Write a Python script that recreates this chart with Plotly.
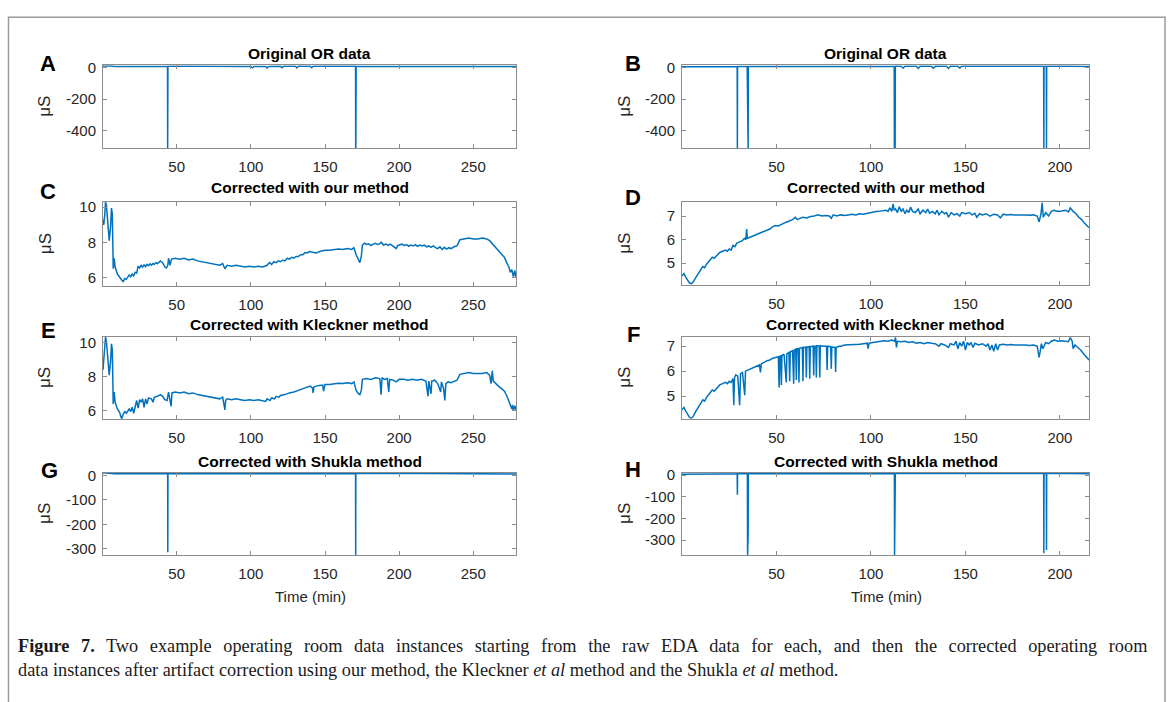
import plotly.graph_objects as go

# ---------------- data ----------------
A_time = [0.3, 2, 6, 8, 14, 30, 43.8, 43.9, 44.0, 44.1, 60, 80, 100, 101, 102, 110, 111, 112, 120,
          121, 122, 130, 131, 132, 140, 141, 142, 150, 170.6, 170.7, 170.8, 171, 200, 240, 260,
          278.8]
A_us = [9.3, 10.2, 9.9, 6.5, 5.8, 6.7, 6.6, -511, -511, 7.1, 7.0, 6.7, 6.6, -2, 6.7, 6.7, -3, 6.8,
        6.9, -2, 6.9, 7.2, -3, 7.2, 7.4, -2, 7.4, 7.5, 7.7, -511, -511, 7.9, 7.8, 8.2, 8.2, 6.0]

B_time = [0, 4, 20, 29.2, 29.3, 29.4, 34.5, 34.6, 34.7, 34.9, 35.0, 35.1, 60, 100, 112.3, 112.4,
          112.5, 112.7, 112.8, 112.9, 116, 117, 118, 124, 125, 126, 132, 133, 134, 140, 141, 142,
          146, 147, 148, 170, 191.4, 191.5, 191.6, 192.8, 192.9, 193.0, 205, 215.4]
B_us = [4.4, 4.1, 5.4, 5.9, -511, 5.9, 6.0, -511, 6.0, 6.0, -511, 6.1, 6.9, 7.1, 7.2, -511,
        7.2, 7.2, -511, 7.2, 7.2, -5, 7.1, 7.1, -6, 7.1, 7.0, -5, 7.0, 7.1, -6, 7.1,
        7.0, -4, 7.0, 7.05, 7.0, -511, 7.0, 7.1, -511, 7.1, 7.3, 6.5]

C_time = [0.3, 0.8, 1.5, 2.0, 2.6, 3.5, 4.5, 5.5, 6.0, 6.6, 7.2, 7.8, 8.5, 10, 11.5, 13, 14, 15, 16,
          18, 19, 20, 21, 22, 23, 24, 25, 26, 27, 28, 29, 30, 31, 32, 33, 34, 35, 36, 37, 38, 39,
          40.5, 42, 43, 44, 44.5, 45.5, 46.5, 49, 52, 55, 58, 61, 64, 67, 70, 73, 76, 79, 81, 82.5,
          84, 87, 90, 93, 96, 99, 102, 105, 108, 111, 112.5, 114, 115.5, 117, 118.5, 120, 121.5,
          123, 124.5, 126, 127.5, 129, 130.5, 132, 133.5, 135, 136.5, 138, 139.5, 141, 144, 147,
          150, 153, 156, 159, 162, 165, 168, 169.5, 171, 172.5, 173.5, 174.5, 175.2, 176.5, 178,
          179.5, 181, 182.5, 184, 185.5, 186.5, 188, 189.5, 191, 192.5, 194, 196, 197, 198, 199,
          200, 202, 203.5, 205, 206.5, 208, 209.5, 211, 212.5, 214, 215.5, 217, 218.5, 220, 221.5,
          223, 224.5, 226, 227.5, 229, 230.5, 232, 233.5, 235, 237, 239, 241, 244, 247, 250, 253,
          256, 259, 261, 263, 265, 267, 269, 271, 272.5, 274, 275, 276, 277, 278, 278.8]
C_us = [9.3, 9.0, 9.6, 10.3, 10.1, 9.2, 8.1, 9.0, 9.95, 9.6, 6.5, 7.1, 6.6, 6.2, 6.0, 5.85, 5.78,
        5.95, 5.9, 6.15, 6.05, 6.2, 6.1, 6.3, 6.25, 6.65, 6.55, 6.7, 6.6, 6.72, 6.62, 6.75, 6.68,
        6.78, 6.7, 6.8, 6.75, 6.85, 6.8, 6.9, 6.95, 6.85, 6.6, 6.55, 6.7, 7.1, 6.7, 7.05, 7.1,
        7.05, 7.1, 7.0, 7.05, 6.95, 6.9, 6.85, 6.8, 6.75, 6.7, 6.8, 6.5, 6.7, 6.65, 6.7, 6.65,
        6.6, 6.65, 6.6, 6.65, 6.6, 6.7, 6.85, 6.75, 6.9, 6.85, 6.95, 6.9, 7.0, 6.95, 7.1, 7.05,
        7.15, 7.1, 7.2, 7.2, 7.3, 7.3, 7.42, 7.4, 7.48, 7.45, 7.4, 7.5, 7.55, 7.55, 7.6, 7.62,
        7.6, 7.65, 7.6, 7.7, 7.3, 7.0, 6.85, 7.2, 7.85, 7.95, 7.88, 7.92, 7.82, 7.9, 7.95, 7.88,
        7.9, 8.0, 7.85, 7.9, 7.83, 7.9, 7.8, 7.72, 7.65, 7.82, 7.85, 7.9, 7.82, 7.88, 7.78, 7.85,
        7.8, 7.87, 7.78, 7.85, 7.8, 7.85, 7.75, 7.8, 7.72, 7.8, 7.7, 7.65, 7.75, 7.6, 7.72, 7.62,
        7.7, 7.65, 7.75, 7.8, 8.15, 8.2, 8.25, 8.2, 8.2, 8.25, 8.2, 8.1, 7.9, 7.7, 7.5, 7.35,
        7.15, 6.85, 6.6, 6.3, 6.45, 6.05, 6.4, 6.0]

D_time = [0, 1, 2, 3, 4, 5, 6, 7, 8.5, 10, 11, 12, 13, 14.5, 16, 17, 18.5, 20, 21.5, 23, 24, 25,
          26, 27, 28, 29, 30.5, 32, 33, 33.8, 34.2, 34.6, 36, 37.5, 39, 40.5, 42, 43.5, 45, 46.5,
          48, 49.5, 51, 52.5, 54, 55.5, 57, 58.5, 60, 61, 62.5, 64, 66, 68, 70, 72, 74, 76, 78,
          79, 80, 82, 84, 86, 88, 90, 92, 94, 96, 98, 100, 102, 104, 106, 108, 109, 110, 111,
          111.7, 112.3, 113, 114, 115, 116, 117, 118, 119, 120, 121, 122, 123.5, 125, 126,
          127.5, 129, 130, 131, 132.5, 134, 135, 136, 137.5, 139, 140, 141, 142.5, 144, 145.5,
          147, 148, 150, 152, 153.5, 155, 156, 157.5, 159, 161, 163, 165, 167, 168.5, 170, 172,
          174, 176, 178, 180, 182, 184, 186, 188, 189, 190, 190.6, 191.2, 192.5, 194, 195.5, 197,
          199, 201, 203, 204.5, 205.5, 207, 208.5, 210, 211.5, 213, 214.5, 215.4]
D_us = [4.45, 4.55, 4.4, 4.25, 4.15, 4.12, 4.2, 4.35, 4.55, 4.7, 4.85, 4.8, 4.95, 5.1, 5.25, 5.2,
        5.35, 5.45, 5.5, 5.55, 5.5, 5.6, 5.55, 5.75, 5.7, 5.85, 5.9, 5.95, 6.05, 6.0, 6.45, 6.05,
        6.1, 6.15, 6.2, 6.25, 6.3, 6.35, 6.42, 6.45, 6.55, 6.6, 6.58, 6.65, 6.7, 6.75, 6.8, 6.85,
        6.95, 6.85, 6.9, 6.95, 6.92, 6.98, 7.0, 7.05, 7.0, 7.02, 7.0, 6.9, 7.05, 7.0, 7.05, 7.02,
        7.05, 7.08, 7.05, 7.1, 7.08, 7.12, 7.15, 7.18, 7.2, 7.22, 7.25, 7.2, 7.35, 7.2, 7.52,
        7.25, 7.3, 7.15, 7.4, 7.2, 7.3, 7.1, 7.25, 7.15, 7.38, 7.2, 7.15, 7.3, 7.1, 7.25, 7.15,
        7.3, 7.12, 7.2, 7.1, 7.25, 7.05, 7.2, 7.1, 7.15, 6.95, 7.15, 7.05, 7.1, 7.0, 7.15, 7.1,
        7.15, 7.05, 7.12, 6.95, 7.1, 7.05, 7.1, 7.0, 7.08, 7.05, 6.92, 7.08, 7.05, 7.07, 7.05,
        7.06, 7.04, 7.05, 7.03, 7.05, 7.0, 6.75, 7.1, 7.56, 6.95, 7.15, 7.0, 7.2, 7.25, 7.2,
        7.22, 7.25, 7.18, 7.35, 7.2, 7.1, 6.95, 6.85, 6.7, 6.55, 6.5]

E_time = [0.3, 0.8, 1.5, 2.0, 2.6, 3.5, 4.5, 5.5, 6.0, 6.6, 7.2, 7.8, 8.5, 10, 11.5, 12.5, 13, 14,
          15, 16, 18, 19, 20, 21, 22, 23, 24, 25, 26, 27, 28, 29, 30, 31, 33, 34, 35, 37, 39, 40.5,
          42, 43.5, 44.5, 45.5, 46.2, 46.8, 49, 52, 55, 58, 61, 64, 67, 70, 73, 76, 79, 81, 82,
          82.5, 83, 84, 87, 90, 93, 96, 99, 102, 105, 108, 110, 111, 113, 114, 116, 117, 119, 120,
          123, 126, 129, 132, 135, 138, 140, 141.5, 142, 142.5, 144, 147, 148.5, 149, 149.5, 150,
          153, 156, 159, 162, 165, 168, 169.5, 171, 172.5, 173.5, 174.5, 175.2, 178, 181, 184,
          187, 187.8, 188.5, 190, 192, 193, 193.6, 196, 198, 200, 203, 206, 209, 212, 215, 218,
          219.5, 220, 221.5, 222, 224, 226, 228, 228.5, 230, 230.8, 231.5, 233, 235, 237, 239,
          241, 244, 247, 250, 253, 256, 259, 261, 262, 262.8, 263.5, 265, 267, 269, 271, 272.5,
          274, 275, 276, 276.5, 277, 278, 278.8]
E_us = [8.4, 9.2, 9.6, 10.35, 10.1, 9.2, 8.1, 9.0, 9.95, 9.6, 6.4, 7.1, 6.5, 6.1, 5.9, 5.6, 5.55,
        5.8, 5.95, 5.85, 6.1, 5.95, 6.2, 5.85, 6.3, 6.6, 6.15, 6.65, 6.5, 6.7, 6.2, 6.7, 6.4,
        6.75, 6.7, 6.5, 6.8, 6.85, 6.95, 6.85, 6.65, 6.6, 7.1, 6.7, 6.25, 7.05, 7.1, 7.05, 7.1,
        7.0, 7.05, 6.95, 6.9, 6.85, 6.8, 6.75, 6.7, 6.8, 6.3, 6.05, 6.6, 6.7, 6.65, 6.7, 6.65,
        6.6, 6.65, 6.6, 6.65, 6.6, 6.55, 6.7, 6.6, 6.75, 6.7, 6.85, 6.8, 6.9, 6.95, 7.05, 7.1,
        7.2, 7.3, 7.4, 7.45, 7.35, 7.05, 7.4, 7.45, 7.5, 7.5, 7.15, 7.5, 7.55, 7.55, 7.6, 7.62,
        7.6, 7.65, 7.6, 7.7, 7.2, 7.0, 6.95, 7.2, 7.85, 7.9, 7.85, 7.95, 7.9, 6.95, 7.95, 7.85,
        7.9, 7.1, 7.85, 7.8, 7.7, 7.85, 7.85, 7.8, 7.85, 7.8, 7.85, 7.75, 6.85, 7.75, 7.0, 7.75,
        7.8, 7.6, 7.1, 7.7, 7.3, 6.6, 7.6, 7.7, 7.65, 7.75, 7.8, 8.15, 8.2, 8.25, 8.2, 8.2, 8.2,
        8.25, 8.1, 7.6, 8.35, 7.75, 7.6, 7.45, 7.3, 7.15, 6.9, 6.6, 6.3, 6.1, 6.35, 6.0, 6.3,
        6.05]

F_time = [0, 1, 2, 3, 4, 5, 6, 7, 8.5, 10, 11, 12, 13, 14.5, 16, 17, 18.5, 20, 21.5, 23, 24, 25,
          26, 27, 27.4, 27.8, 28.5, 29.5, 30.5, 31, 32, 33.2, 33.6, 35, 36.5, 38, 39.5, 41, 41.5,
          42, 43.5, 45, 46.5, 48, 49.5, 51, 51.4, 51.8, 52.3, 52.6, 52.9, 54, 55.2, 55.5, 56.6,
          57.0, 57.3, 58.5, 59.1, 59.4, 60.2, 60.5, 60.8, 61.6, 61.9, 62.2, 63.7, 64.0, 64.3,
          65.5, 65.8, 66.1, 67.3, 67.6, 67.9, 69.4, 69.7, 70.0, 70.8, 71.1, 71.4, 72.6, 72.9,
          73.2, 75, 76.5, 76.8, 77.1, 78.7, 79.0, 79.3, 81.0, 81.3, 81.6, 83, 84, 86, 88, 90, 92,
          94, 96, 98, 98.5, 99, 101, 103, 105, 107, 109, 111, 112.5, 113, 113.5, 114, 116, 118,
          120, 122, 124, 126, 128, 130, 132, 134, 136, 137, 139, 141, 142, 144, 145, 146, 147,
          148, 149, 150, 151, 152, 153, 154, 155, 157, 159, 161, 162, 163, 164, 165, 166, 167,
          168, 170, 172, 174, 176, 178, 180, 182, 184, 186, 188, 189, 189.6, 190.2, 191, 192.5,
          194, 195.5, 197, 199, 201, 203, 204.5, 205.5, 206.5, 207, 208, 209.5, 211, 212.5, 214,
          215.4]
F_us = [4.45, 4.55, 4.4, 4.25, 4.15, 4.12, 4.2, 4.35, 4.55, 4.7, 4.85, 4.8, 4.95, 5.1, 5.25, 5.2,
        5.35, 5.45, 5.5, 5.55, 5.5, 5.6, 5.55, 5.7, 4.64, 5.75, 5.85, 5.8, 4.64, 5.9, 5.95, 5.04,
        6.0, 6.05, 6.1, 6.15, 6.2, 6.25, 5.95, 6.3, 6.35, 6.42, 6.45, 6.52, 6.55, 6.58, 5.35,
        6.6, 6.62, 5.45, 6.62, 6.68, 5.55, 6.7, 6.75, 5.6, 6.78, 6.82, 5.5, 6.85, 6.88, 5.65,
        6.9, 6.9, 5.55, 6.92, 6.95, 5.6, 6.95, 6.96, 5.75, 6.97, 6.98, 5.7, 6.98, 7.0, 5.83,
        7.0, 7.0, 5.75, 7.02, 7.0, 5.75, 7.02, 7.0, 7.0, 6.05, 7.0, 6.98, 6.1, 6.97, 6.95, 5.97,
        6.95, 7.0, 7.0, 7.05, 7.05, 7.08, 7.05, 7.08, 7.1, 7.12, 6.9, 7.12, 7.15, 7.18, 7.2,
        7.22, 7.2, 7.25, 7.2, 7.35, 6.95, 7.2, 7.18, 7.2, 7.15, 7.18, 7.12, 7.15, 7.1, 7.15,
        7.12, 7.1, 7.0, 7.1, 7.05, 6.95, 7.1, 7.05, 7.2, 6.9, 7.15, 7.0, 7.2, 6.85, 7.15, 7.05,
        7.15, 6.95, 7.12, 7.05, 7.1, 7.0, 7.1, 6.85, 7.05, 6.8, 7.1, 6.85, 7.05, 7.08, 7.05,
        7.07, 7.05, 7.06, 7.05, 7.05, 7.03, 7.05, 7.0, 6.55, 6.8, 7.1, 6.9, 7.15, 7.1, 7.2, 7.25,
        7.2, 7.22, 7.2, 7.18, 7.35, 7.2, 6.9, 7.05, 6.95, 6.85, 6.7, 6.55, 6.45]

G_time = [0.3, 2, 8, 30, 43.9, 44.0, 44.1, 100, 170.6, 170.7, 170.8, 220, 278.8]
G_us = [9.3, 10.2, 6.5, 6.7, 6.6, -313, 7.1, 6.6, 7.7, -324, 7.9, 7.8, 6.0]

H_time = [0, 4, 20, 29.2, 29.3, 29.4, 34.6, 34.7, 34.8, 34.95, 35.0, 35.1, 60, 100, 112.4, 112.5,
          112.6, 112.75, 112.8, 112.9, 150, 191.4, 191.5, 191.6, 192.8, 192.9, 193.0, 205, 215.4]
H_us = [4.4, 4.1, 5.4, 5.9, -90, 5.9, 6.0, -368, 6.0, 6.0, -277, 6.1, 6.9, 7.1, 7.2, -368,
        7.2, 7.2, -345, 7.2, 7.1, 7.0, -360, 7.0, 7.1, -345, 7.1, 7.3, 6.5]

titles = ["Original OR data", "Original OR data",
          "Corrected with our method", "Corrected with our method",
          "Corrected with Kleckner method", "Corrected with Kleckner method",
          "Corrected with Shukla method", "Corrected with Shukla method"]
letters = ["A", "B", "C", "D", "E", "F", "G", "H"]
left_xticks = [50, 100, 150, 200, 250]
right_xticks = [50, 100, 150, 200]
yticks_AB = [-400, -200, 0]
yticks_CE = [6, 8, 10]
yticks_DF = [5, 6, 7]
yticks_GH = [-300, -200, -100, 0]
xlabel = "Time (min)"
ylabel = "μS"
caption_1 = ("<b>Figure 7.</b> Two example operating room data instances starting from the raw EDA "
             "data for each, and then the corrected operating room")
caption_2 = ("data instances after artifact correction using our method, the Kleckner <i>et al</i> "
             "method and the Shukla <i>et al</i> method.")

# ---------------- layout (pixels) ----------------
W, H = 1168, 702
BLUE = "#0072BD"
AXC = "#8c8c8c"
TXT = "#262626"
SANS = "Liberation Sans, Arial, sans-serif"
SERIF = "Liberation Serif, Times New Roman, serif"


def fx(p):
    return p / W


def fy(p):
    return 1 - p / H


series = [(A_time, A_us), (B_time, B_us), (C_time, C_us), (D_time, D_us),
          (E_time, E_us), (F_time, F_us), (G_time, G_us), (H_time, H_us)]
yticks = [yticks_AB, yticks_AB, yticks_CE, yticks_DF, yticks_CE, yticks_DF, yticks_GH, yticks_GH]
yranges = [[-511, 14], [-511, 14], [5.5, 10.3], [4.05, 7.6],
           [5.5, 10.37], [4.1, 7.38], [-324, 10], [-368, 10]]
xranges = [[0.3, 278.8], [0, 215.4]]
colpx = [(103, 516), (682, 1089)]
rowpx = [(59, 143), (59, 143), (197.5, 283), (197.5, 282), (334, 417.5), (334, 417), (472, 555), (472, 555)]
title_y = [47, 47, 183, 183, 322, 322, 460, 460]
letter_pos = [(48, 57), (633, 57), (48, 187), (633, 193), (48, 328), (633, 332), (49, 470), (633, 468)]

fig = go.Figure()
layout = dict(width=W, height=H, autosize=False, margin=dict(l=0, r=0, t=0, b=0),
              paper_bgcolor="white", plot_bgcolor="white", showlegend=False)
annotations = []


def ticklabels(vals):
    return [str(v) for v in vals]


for i, ((t, v), yt, yr, (y0, y1)) in enumerate(zip(series, yticks, yranges, rowpx)):
    col = i % 2
    x0, x1 = colpx[col]
    n = "" if i == 0 else str(i + 1)
    fig.add_trace(go.Scatter(x=t, y=v, mode="lines", line=dict(color=BLUE, width=1.5),
                             xaxis="x" + n, yaxis="y" + n, hoverinfo="skip"))
    common = dict(showline=True, linecolor=AXC, linewidth=1, mirror="ticks", ticks="inside",
                  ticklen=4, tickcolor=AXC, showgrid=False, zeroline=False,
                  tickfont=dict(family=SANS, size=15, color=TXT))
    xt = left_xticks if col == 0 else right_xticks
    layout["xaxis" + n] = dict(common, domain=[fx(x0), fx(x1)], range=xranges[col],
                               tickvals=xt, ticktext=ticklabels(xt),
                               anchor="y" + n, ticklabelstandoff=5)
    layout["yaxis" + n] = dict(common, domain=[fy(y1), fy(y0)], range=yr, tickvals=yt,
                               ticktext=ticklabels(yt), anchor="x" + n, ticklabelstandoff=3)
    annotations.append(dict(text="<b>" + titles[i] + "</b>", x=fx((x0 + x1) / 2), y=fy(title_y[i]),
                            xref="paper", yref="paper", showarrow=False, xanchor="center",
                            yanchor="middle", font=dict(family=SANS, size=15.5, color="black")))
    lx, ly = letter_pos[i]
    annotations.append(dict(text="<b>" + letters[i] + "</b>", x=fx(lx), y=fy(ly),
                            xref="paper", yref="paper", showarrow=False, xanchor="center",
                            yanchor="middle", font=dict(family=SANS, size=22, color="black")))
    annotations.append(dict(text=ylabel, x=fx(45 if col == 0 else 625), y=fy((y0 + y1) / 2),
                            xref="paper", yref="paper", showarrow=False, xanchor="center",
                            yanchor="middle", textangle=-90,
                            font=dict(family=SANS, size=17, color=TXT)))

for cx in (310, 886):
    annotations.append(dict(text=xlabel, x=fx(cx), y=fy(597), xref="paper", yref="paper",
                            showarrow=False, xanchor="center", yanchor="middle",
                            font=dict(family=SANS, size=15, color=TXT)))

# caption: first line is justified in the reference (stretched word spacing)
caption = ('<span style="word-spacing:7px">' + caption_1 + "</span><br>" + caption_2)
annotations.append(dict(text=caption, x=fx(16), y=fy(659), xref="paper", yref="paper",
                        showarrow=False, xanchor="left", yanchor="middle", align="left",
                        font=dict(family=SERIF, size=18.3, color="#1a1a1a")))

layout["annotations"] = annotations
layout["shapes"] = [dict(type="rect", xref="paper", yref="paper", x0=fx(8.5), x1=fx(1165),
                         y0=-0.05, y1=fy(10.5), line=dict(color="#9a9a9a", width=1.5),
                         fillcolor="rgba(0,0,0,0)")]
fig.update_layout(**layout)
fig.write_html("out.html")
